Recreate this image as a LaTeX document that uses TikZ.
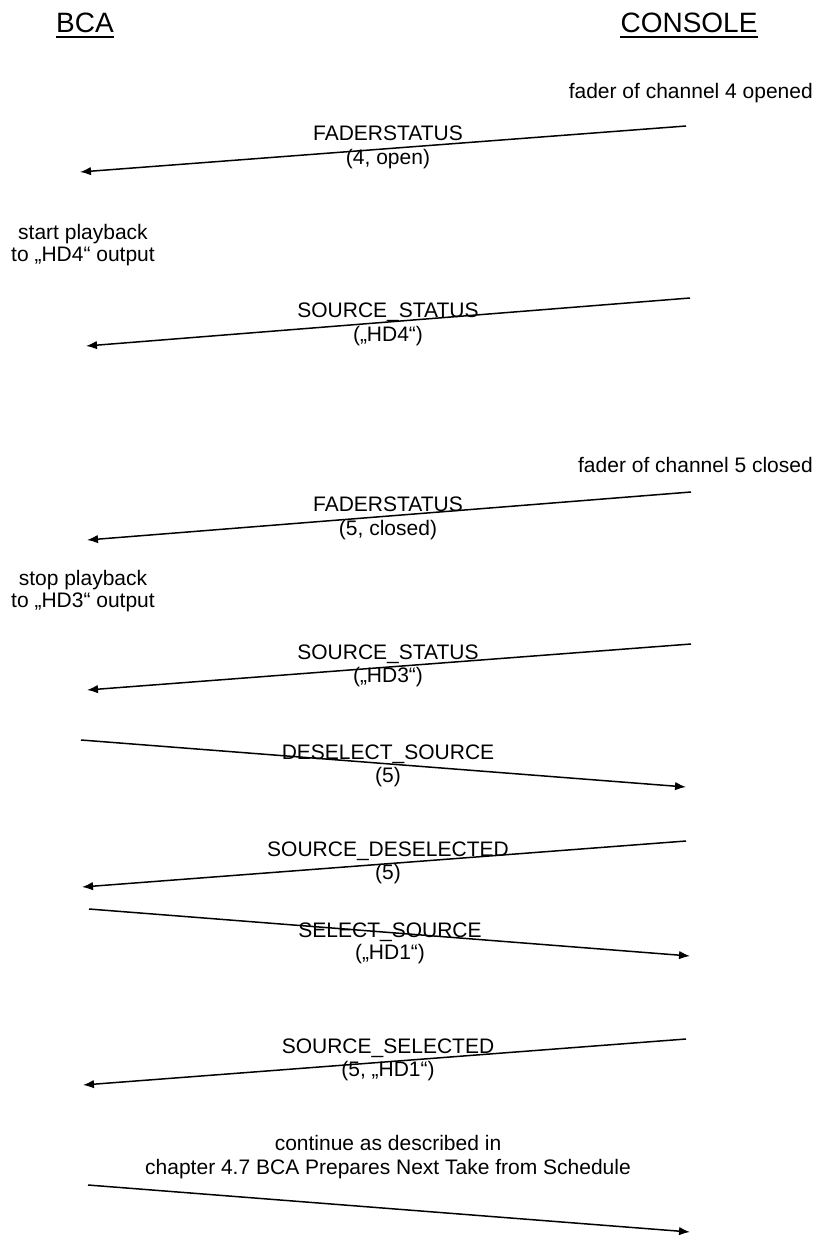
\documentclass[tikz,border=0pt]{standalone}
\usepackage{fontspec}
\setmainfont{Liberation Sans}
\usetikzlibrary{arrows.meta}
\begin{document}
\begin{tikzpicture}[x=1pt,y=-1pt,
  lbl/.style={inner sep=0pt, anchor=base, font=\fontsize{21}{24}\selectfont},
  hdr/.style={inner sep=0pt, anchor=base, font=\fontsize{28}{32}\selectfont},
  msg/.style={line width=1.5pt, -{Latex[length=11pt,width=8.5pt]}},
  uline/.style={line width=2.6pt}]
\useasboundingbox (0,0) rectangle (816,1236);
% headers
\node[hdr] (bca) at (85,33) {BCA};
\node[hdr] (con) at (689,33) {CONSOLE};
\draw[uline] ([yshift=-4pt]bca.base west) -- ([yshift=-4pt]bca.base east);
\draw[uline] ([yshift=-4pt]con.base west) -- ([yshift=-4pt]con.base east);
% events
\node[lbl, anchor=base east] (ev1) at (813,99) {fader of channel 4 opened};
\node[lbl] (ev2a) at (83,239) {start playback};
\node[lbl] (ev2b) at (83,261) {to „HD4“ output};
\node[lbl, anchor=base east] (ev3) at (813,472) {fader of channel 5 closed};
\node[lbl] (ev4a) at (83,585) {stop playback};
\node[lbl] (ev4b) at (83,607) {to „HD3“ output};
\node[lbl] (ev5a) at (388,1150) {continue as described in};
\node[lbl] (ev5b) at (388,1174) {chapter 4.7 BCA Prepares Next Take from Schedule};
% message labels
\node[lbl] (m1) at (388,140) {FADERSTATUS};
\node[lbl] (m1p) at (388,164) {(4, open)};
\node[lbl] (m2) at (388,317) {SOURCE\_STATUS};
\node[lbl] (m2p) at (388,341) {(„HD4“)};
\node[lbl] (m3) at (388,511) {FADERSTATUS};
\node[lbl] (m3p) at (388,535) {(5, closed)};
\node[lbl] (m4) at (388,659) {SOURCE\_STATUS};
\node[lbl] (m4p) at (388,682) {(„HD3“)};
\node[lbl] (m5) at (388,759) {DESELECT\_SOURCE};
\node[lbl] (m5p) at (388,782) {(5)};
\node[lbl] (m6) at (388,856) {SOURCE\_DESELECTED};
\node[lbl] (m6p) at (388,879) {(5)};
\node[lbl] (m7) at (390,937) {SELECT\_SOURCE};
\node[lbl] (m7p) at (390,959) {(„HD1“)};
\node[lbl] (m8) at (388,1053) {SOURCE\_SELECTED};
\node[lbl] (m8p) at (388,1076) {(5, „HD1“)};
% arrow end points
\coordinate (a1s) at (686,126); \coordinate (a1e) at (80,172);
\coordinate (a2s) at (690,298); \coordinate (a2e) at (86,346);
\coordinate (a3s) at (691,492); \coordinate (a3e) at (87,540);
\coordinate (a4s) at (691,644); \coordinate (a4e) at (87,690);
\coordinate (a5s) at (81,740);  \coordinate (a5e) at (686,787);
\coordinate (a6s) at (686,841); \coordinate (a6e) at (82,887);
\coordinate (a7s) at (89,909);  \coordinate (a7e) at (690,956);
\coordinate (a8s) at (686,1039); \coordinate (a8e) at (83,1085);
\coordinate (a9s) at (88,1185); \coordinate (a9e) at (690,1232);
\foreach \i in {1,...,9} \draw[msg] (a\i s) -- (a\i e);
\end{tikzpicture}
\end{document}
